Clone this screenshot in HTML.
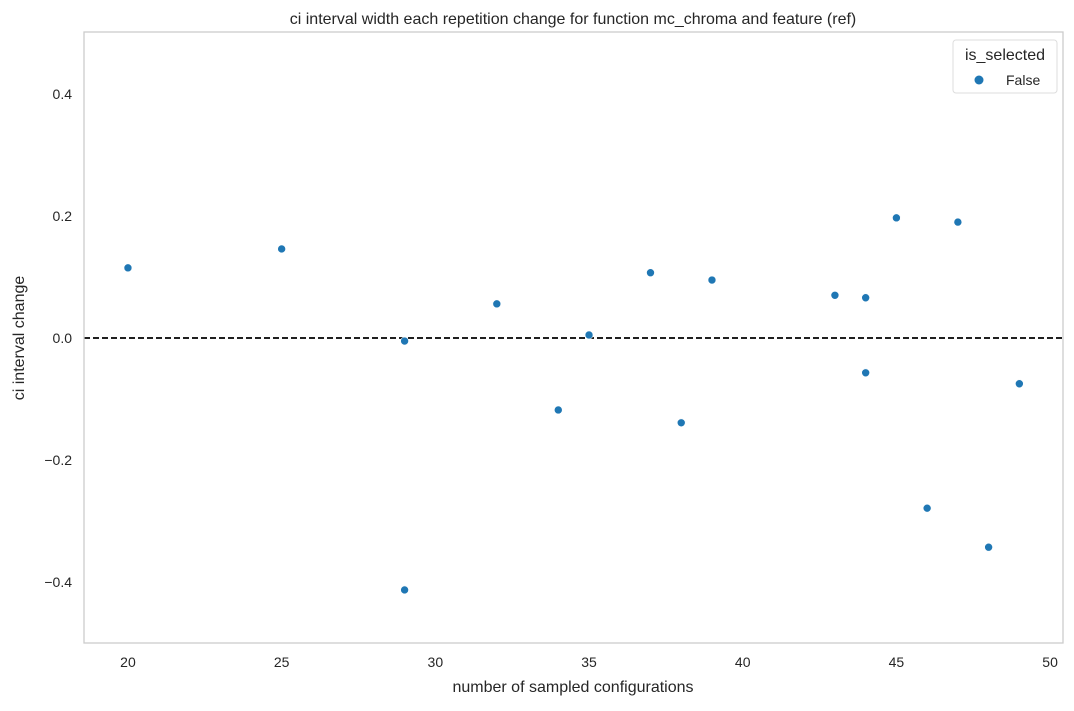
<!DOCTYPE html>
<html><head><meta charset="utf-8"><style>
body{margin:0;background:#fff;font-family:"Liberation Sans",sans-serif;}
svg text{font-family:"Liberation Sans",sans-serif;fill:#262626;}
</style></head><body>
<svg id="chart" width="1074" height="706" xmlns="http://www.w3.org/2000/svg">
<text x="573" y="24" font-size="16" text-anchor="middle">ci interval width each repetition change for function mc_chroma and feature (ref)</text>
<g id="xticks"></g>
<g id="yticks"></g>
<text x="573" y="692" font-size="16" text-anchor="middle">number of sampled configurations</text>
<text transform="translate(24,338) rotate(-90)" font-size="16" text-anchor="middle">ci interval change</text>
<line id="zero" stroke="#000" stroke-width="1.8" stroke-dasharray="6,3"/>
<g id="points"></g>
<rect x="84" y="32" width="979" height="611" fill="none" stroke="#ccc" stroke-width="1.3"/>
<g>
<rect x="953" y="40" width="104" height="53" rx="3" fill="#fff" stroke="#ddd"/>
<text x="1005" y="60" font-size="16" text-anchor="middle">is_selected</text>
<circle cx="979" cy="80" r="4.5" fill="#1f77b4"/>
<text x="1006" y="85" font-size="14">False</text>
</g>
</svg>
<script>
const xValues=[20,25,29,29,32,34,35,37,38,39,43,44,44,45,46,47,48,49];
const yValues=[0.115,0.146,-0.005,-0.413,0.056,-0.118,0.005,0.107,-0.139,0.095,0.070,0.066,-0.057,0.197,-0.279,0.190,-0.343,-0.075];
const xTicks=[20,25,30,35,40,45,50];
const yTicks=[0.4,0.2,0.0,-0.2,-0.4];
const yTickLabels=["0.4","0.2","0.0","\u22120.2","\u22120.4"];
const X0=84,X1=1063,Y0=33,Y1=643,xmin=18.57,xmax=50.42,ymin=-0.5,ymax=0.5;
const sx=v=>X0+(v-xmin)/(xmax-xmin)*(X1-X0);
const sy=v=>Y1-(v-ymin)/(ymax-ymin)*(Y1-Y0);
const NS="http://www.w3.org/2000/svg";
const xg=document.getElementById('xticks'),yg=document.getElementById('yticks'),pg=document.getElementById('points');
xTicks.forEach(t=>{const e=document.createElementNS(NS,'text');e.setAttribute('x',sx(t));e.setAttribute('y',667);e.setAttribute('font-size','14');e.setAttribute('text-anchor','middle');e.textContent=t;


xg.appendChild(e);});
yTicks.forEach((t,i)=>{const e=document.createElementNS(NS,'text');e.setAttribute('x',72);e.setAttribute('y',sy(t)+5);e.setAttribute('font-size','14');e.setAttribute('text-anchor','end');e.textContent=yTickLabels[i];


yg.appendChild(e);});
const z=document.getElementById('zero');z.setAttribute('x1',X0);z.setAttribute('x2',X1);z.setAttribute('y1',sy(0));z.setAttribute('y2',sy(0));
xValues.forEach((x,i)=>{const c=document.createElementNS(NS,'circle');c.setAttribute('cx',sx(x));c.setAttribute('cy',sy(yValues[i]));c.setAttribute('r',4);c.setAttribute('fill','#1f77b4');c.setAttribute('stroke','#fff');c.setAttribute('stroke-width','0.6');


pg.appendChild(c);});
</script>
</body></html>
